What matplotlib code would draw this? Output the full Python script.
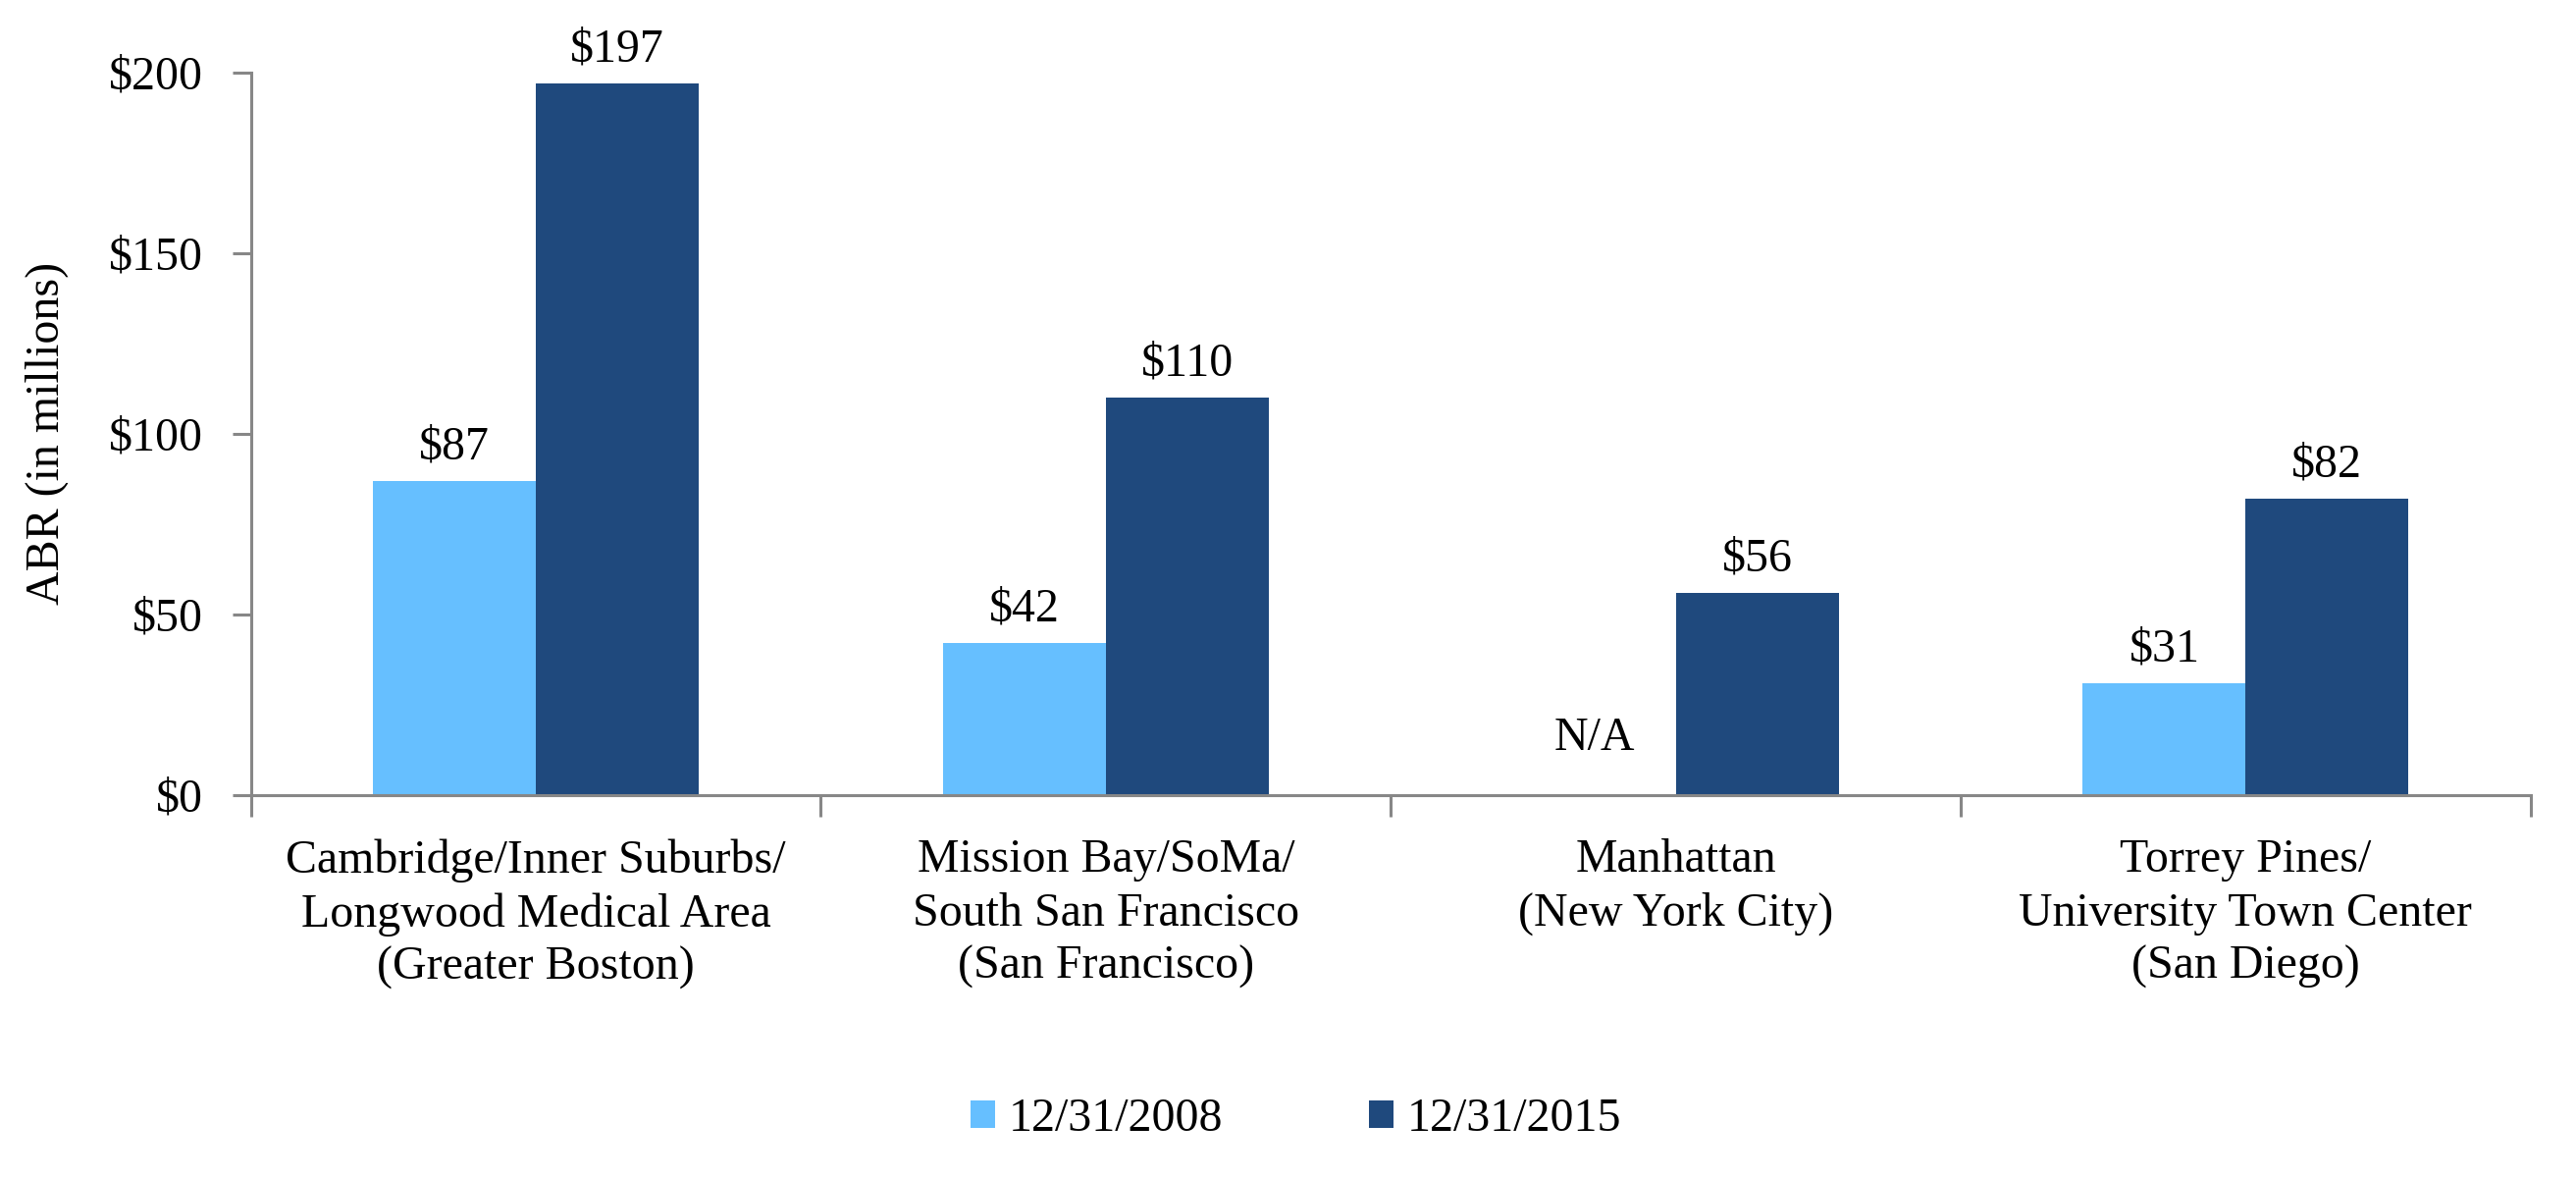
import numpy as np
import matplotlib
matplotlib.use('Agg')
import matplotlib.pyplot as plt

plt.rcParams['font.family'] = ['Liberation Serif', 'DejaVu Serif']

categories = ['Cambridge/Inner Suburbs/\nLongwood Medical Area\n(Greater Boston)',
              'Mission Bay/SoMa/\nSouth San Francisco\n(San Francisco)',
              'Manhattan\n(New York City)',
              'Torrey Pines/\nUniversity Town Center\n(San Diego)']
series_names = ['12/31/2008', '12/31/2015']
abr_2008 = [87, 42, None, 31]
abr_2015 = [197, 110, 56, 82]
y_ticks = [0, 50, 100, 150, 200]

LIGHT = '#66BFFF'
DARK = '#1F497D'
AXIS_GRAY = '#878787'
FS = 34.5

fig = plt.figure(figsize=(26.25, 12), dpi=100)
ax = fig.add_axes([0.0974, 0.325, 0.885, 0.61375])

x = np.arange(len(categories))
width = 0.2857

vals08 = [v if v is not None else 0 for v in abr_2008]
b1 = ax.bar(x - width / 2, vals08, width, color=LIGHT, label=series_names[0])
b2 = ax.bar(x + width / 2, abr_2015, width, color=DARK, label=series_names[1])

# value labels, N/A sits a bit higher above the baseline
for xi, v in zip(x - width / 2, abr_2008):
    if v is None:
        ax.annotate('N/A', (xi, 0), xytext=(0, 26), textcoords='offset points',
                    ha='center', va='bottom', fontsize=FS)
    else:
        ax.annotate('$%d' % v, (xi, v), xytext=(0, 9), textcoords='offset points',
                    ha='center', va='bottom', fontsize=FS)
for xi, v in zip(x + width / 2, abr_2015):
    ax.annotate('$%d' % v, (xi, v), xytext=(0, 9),
                textcoords='offset points', ha='center', va='bottom', fontsize=FS)

ax.set_xlim(-0.5, len(categories) - 0.5)
ax.set_ylim(0, 200)
ax.set_yticks(y_ticks)
ax.set_yticklabels(['$%d' % t for t in y_ticks], fontsize=FS)

ax.set_xticks(np.arange(len(categories) + 1) - 0.5)
ax.set_xticklabels([])
ax.set_xticks(x, minor=True)
ax.set_xticklabels(categories, minor=True, fontsize=FS, linespacing=1.3)
ax.tick_params(axis='x', which='major', length=16, width=2.2, color=AXIS_GRAY, direction='out')
ax.tick_params(axis='x', which='minor', length=0, pad=32)
ax.tick_params(axis='y', length=14, width=2.2, color=AXIS_GRAY, direction='out', pad=21)

for side in ['top', 'right']:
    ax.spines[side].set_visible(False)
for side in ['left', 'bottom']:
    ax.spines[side].set_color(AXIS_GRAY)
    ax.spines[side].set_linewidth(2.2)

ax.set_ylabel('ABR (in millions)', fontsize=FS)
ax.yaxis.set_label_coords(-0.0799, 0.5)

fig.legend(handles=[b1, b2], labels=series_names, loc='center', bbox_to_anchor=(0.503, 0.050),
           ncol=2, frameon=False, fontsize=FS, handlelength=0.52, handleheight=0.52,
           columnspacing=3.1, handletextpad=0.29)

fig.savefig('out.png', dpi=100)
